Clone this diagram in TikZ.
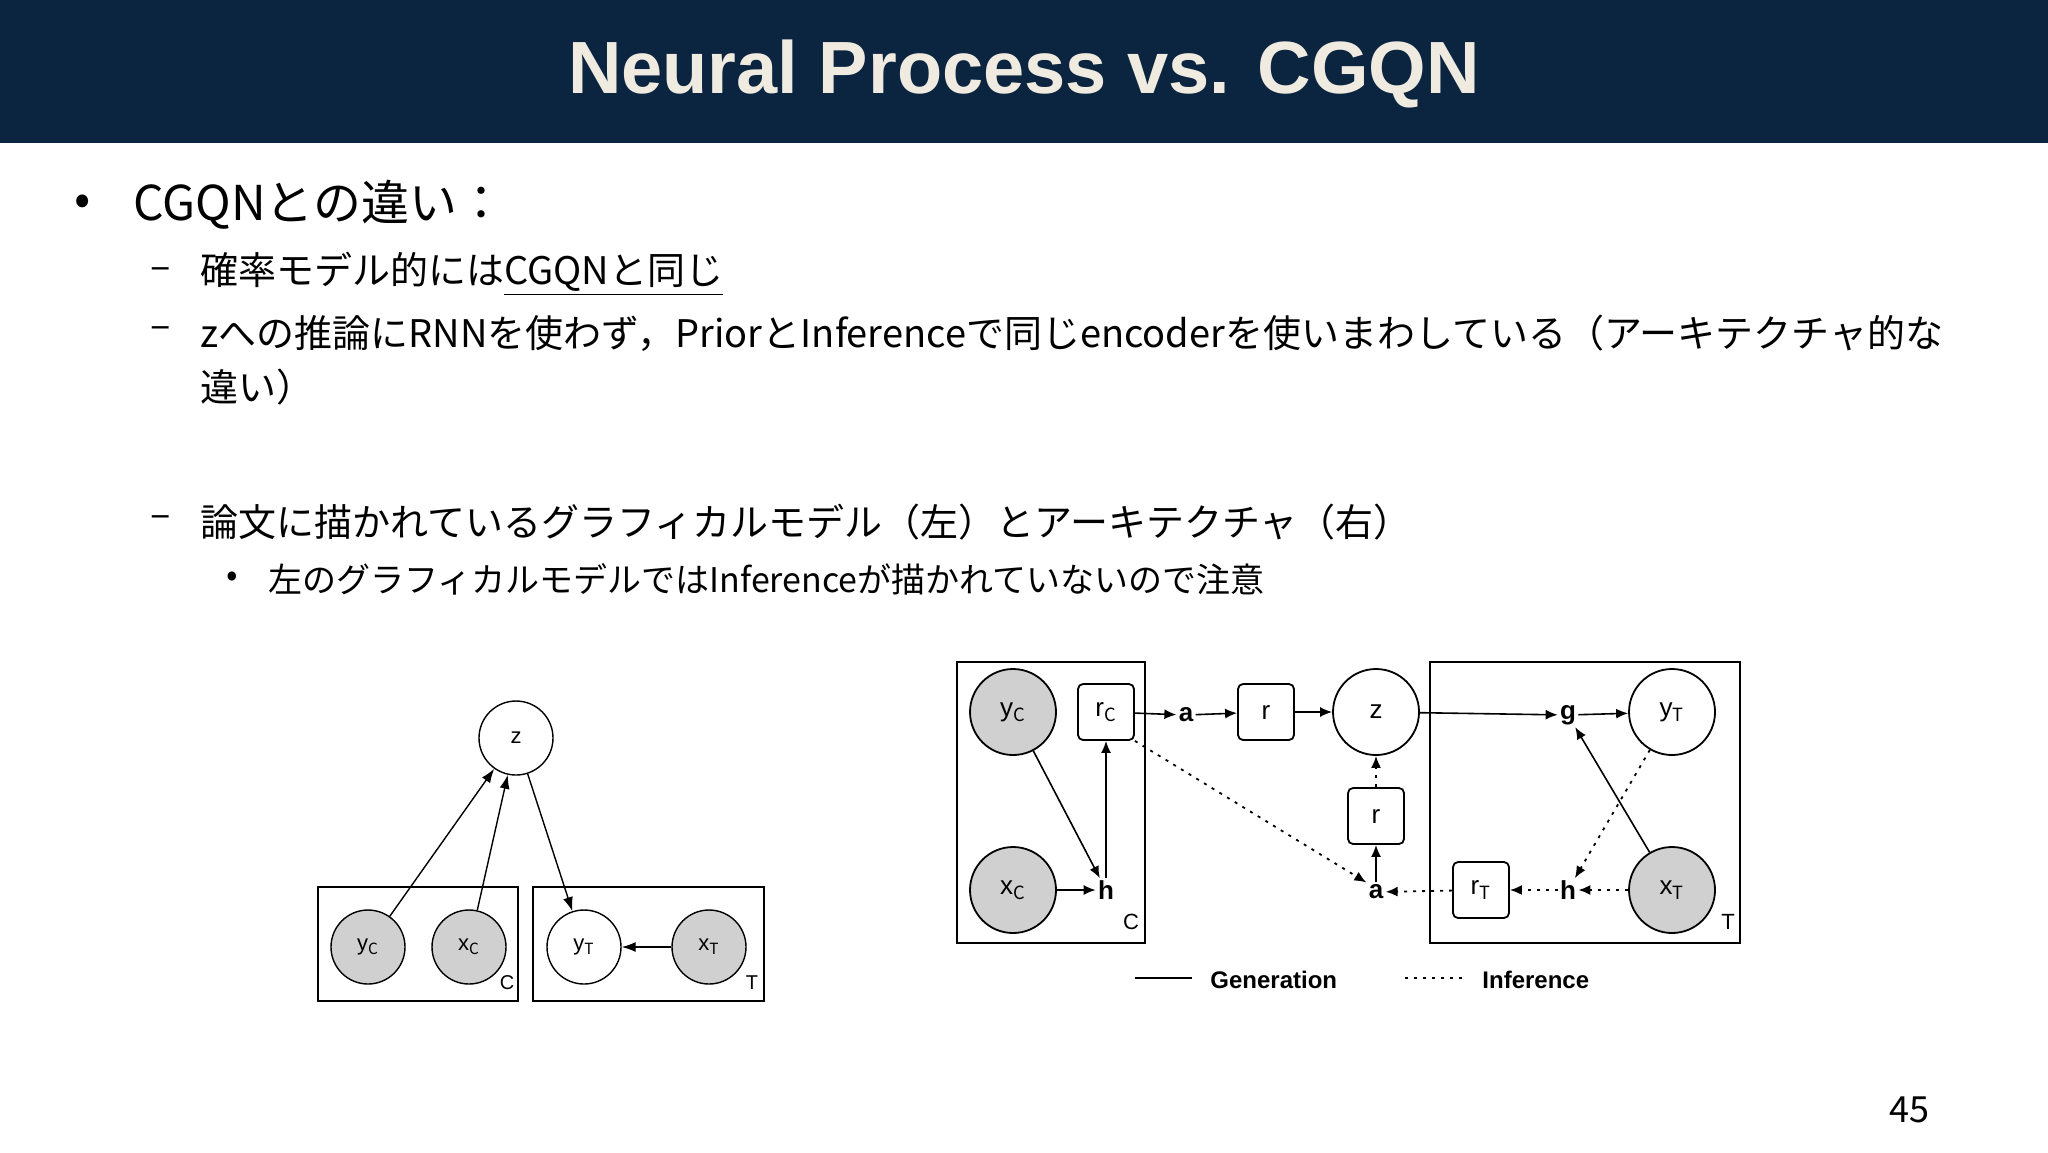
\documentclass[tikz,border=0pt]{standalone}
\usepackage{fontspec}
\setmainfont{Noto Sans CJK JP}
\newfontfamily\ttl{Liberation Sans}
\newfontfamily\dg{Liberation Sans}
\usetikzlibrary{arrows.meta}
\definecolor{navy}{HTML}{0B2440}
\definecolor{cream}{HTML}{F0EBE0}
\definecolor{obs}{HTML}{D0D0D0}
\begin{document}
\begin{tikzpicture}[x=0.5pt,y=-0.5pt,
  var/.style={circle,draw,line width=0.9pt,minimum size=43pt,inner sep=0pt,font=\dg\fontsize{13}{13}\selectfont},
  lvar/.style={circle,draw,line width=0.7pt,minimum size=37pt,inner sep=0pt,font=\dg\fontsize{11}{11}\selectfont},
  ob/.style={fill=obs},
  det/.style={draw,rounded corners=2.5pt,line width=0.9pt,minimum width=28pt,minimum height=28pt,inner sep=0pt,font=\dg\fontsize{13}{13}\selectfont},
  bl/.style={inner sep=1pt,font=\dg\bfseries\fontsize{13}{13}\selectfont},
  plate/.style={draw,line width=0.9pt},
  gen/.style={line width=0.8pt,-{Latex[length=6pt,width=5pt]}},
  inf/.style={line width=0.9pt,dash pattern=on 1.5pt off 3pt,-{Latex[length=6pt,width=5pt]}},
  lgen/.style={line width=0.7pt,-{Latex[length=7pt,width=5pt]}},
  lab/.style={font=\dg\fontsize{10}{10}\selectfont,inner sep=0pt},
  body/.style={anchor=west,inner sep=0pt}]
\useasboundingbox (0,0) rectangle (2048,1152);
\fill[white] (0,0) rectangle (2048,1152);
\fill[navy] (0,0) rectangle (2048,143);
\node[text=cream,font=\ttl\bfseries\fontsize{37}{37}\selectfont] (title) at (1024,74) {Neural Process vs. CGQN};
% text
\node[body,font=\fontsize{24}{24}\selectfont] (m0) at (74,205) {•};
\node[body,font=\fontsize{24}{24}\selectfont] (b0) at (133,205) {CGQNとの違い：};
\node[body,font=\fontsize{19}{19}\selectfont] (m1) at (150,274) {–};
\node[body,font=\fontsize{19}{19}\selectfont] (b1) at (200,274) {確率モデル的には\underline{CGQNと同じ}};
\node[body,font=\fontsize{19}{19}\selectfont] (m2) at (150,333) {–};
\node[body,font=\fontsize{19}{19}\selectfont] (b2) at (200,333) {zへの推論にRNNを使わず，PriorとInferenceで同じencoderを使いまわしている（アーキテクチャ的な};
\node[body,font=\fontsize{19}{19}\selectfont] (b3) at (200,387) {違い）};
\node[body,font=\fontsize{19}{19}\selectfont] (m4) at (150,522) {–};
\node[body,font=\fontsize{19}{19}\selectfont] (b4) at (200,522) {論文に描かれているグラフィカルモデル（左）とアーキテクチャ（右）};
\node[body,font=\fontsize{17}{17}\selectfont] (m5) at (226,579) {•};
\node[body,font=\fontsize{17}{17}\selectfont] (b5) at (268,579) {左のグラフィカルモデルではInferenceが描かれていないので注意};
\node[font=\fontsize{18}{18}\selectfont] (pg) at (1909,1110) {45};
% left diagram
\draw[plate] (318,887) rectangle (518,1001);
\draw[plate] (533,887) rectangle (764,1001);
\node[lab] (lc) at (507,983) {C};
\node[lab] (lt) at (752,983) {T};
\node[lvar] (Lz) at (516,738) {z};
\node[lvar,ob] (LyC) at (368,947) {y$_{\mathrm{C}}$};
\node[lvar,ob] (LxC) at (469,947) {x$_{\mathrm{C}}$};
\node[lvar] (LyT) at (584,947) {y$_{\mathrm{T}}$};
\node[lvar,ob] (LxT) at (709,947) {x$_{\mathrm{T}}$};
\draw[lgen] (LyC) -- (Lz);
\draw[lgen] (LxC) -- (Lz);
\draw[lgen] (Lz) -- (LyT);
\draw[lgen] (LxT) -- (LyT);
% right diagram
\draw[plate] (957,662) rectangle (1145,943);
\draw[plate] (1430,662) rectangle (1740,943);
\node[lab,font=\dg\fontsize{11}{11}\selectfont] (rc) at (1131,922) {C};
\node[lab,font=\dg\fontsize{11}{11}\selectfont] (rt) at (1728,922) {T};
\node[var,ob] (yC) at (1013,712) {y$_{\mathrm{C}}$};
\node[var,ob] (xC) at (1013,890) {x$_{\mathrm{C}}$};
\node[det] (rC) at (1106,712) {r$_{\mathrm{C}}$};
\node[bl] (hC) at (1106,890) {h};
\node[bl] (aT) at (1186,715) {a};
\node[det] (rT) at (1266,712) {r};
\node[var] (z) at (1376,712) {z};
\node[det] (rM) at (1376,816) {r};
\node[bl] (aB) at (1376,892) {a};
\node[bl] (g) at (1568,715) {g};
\node[var] (yT) at (1672,712) {y$_{\mathrm{T}}$};
\node[det] (rTT) at (1481,890) {r$_{\mathrm{T}}$};
\node[bl] (hT) at (1568,890) {h};
\node[var,ob] (xT) at (1672,890) {x$_{\mathrm{T}}$};
\draw[gen] (yC) -- (hC);
\draw[gen] (xC) -- (hC);
\draw[gen] (hC) -- (rC);
\draw[gen] (rC) -- (aT);
\draw[gen] (aT) -- (rT);
\draw[gen] (rT) -- (z);
\draw[gen] (z) -- (g);
\draw[gen] (g) -- (yT);
\draw[gen] (xT) -- (g);
\draw[inf] (rC.south east) -- (aB.north west);
\draw[inf] (yT) -- (hT);
\draw[inf] (xT) -- (hT);
\draw[inf] (hT) -- (rTT);
\draw[inf] (rTT) -- (aB);
\draw[gen] (aB) -- (rM);
\draw[inf] (rM) -- (z);
% legend
\coordinate (g1) at (1135,978);
\coordinate (g2) at (1192,978);
\draw[line width=0.9pt] (g1) -- (g2);
\node[bl,anchor=west,font=\dg\bfseries\fontsize{12}{12}\selectfont] (lg) at (1208,980) {Generation};
\coordinate (i1) at (1405,978);
\coordinate (i2) at (1465,978);
\draw[line width=0.9pt,dash pattern=on 1.5pt off 3pt] (i1) -- (i2);
\node[bl,anchor=west,font=\dg\bfseries\fontsize{12}{12}\selectfont] (li) at (1480,980) {Inference};
\end{tikzpicture}
\end{document}
